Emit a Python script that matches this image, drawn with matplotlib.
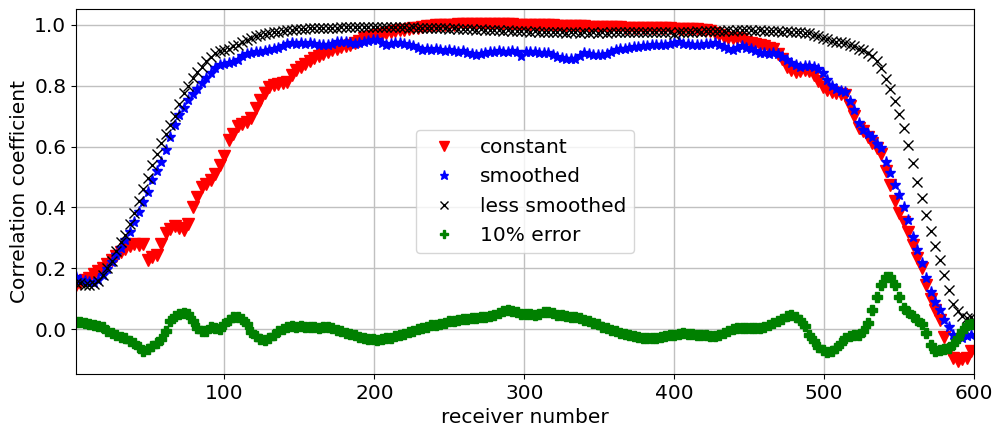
import numpy as np
import matplotlib
matplotlib.use("Agg")
import matplotlib.pyplot as plt

receivers = np.arange(1, 600, 3)

constant = [
    0.145, 0.150, 0.160, 0.168, 0.180, 0.192, 0.200, 0.215, 0.228, 0.240,
    0.252, 0.262, 0.272, 0.280, 0.275, 0.280, 0.228, 0.236, 0.245, 0.280,
    0.315, 0.330, 0.338, 0.333, 0.326, 0.345, 0.400, 0.435, 0.468, 0.478,
    0.490, 0.510, 0.540, 0.570, 0.620, 0.640, 0.668, 0.675, 0.680, 0.693,
    0.728, 0.752, 0.775, 0.795, 0.802, 0.806, 0.808, 0.812, 0.836, 0.850,
    0.860, 0.870, 0.882, 0.891, 0.898, 0.905, 0.910, 0.916, 0.920, 0.926,
    0.930, 0.935, 0.940, 0.947, 0.955, 0.960, 0.963, 0.966, 0.970, 0.974,
    0.977, 0.979, 0.982, 0.984, 0.986, 0.989, 0.991, 0.993, 0.995, 0.996,
    0.998, 0.999, 1.000, 1.000, 1.001, 1.002, 1.002, 1.003, 1.003, 1.003,
    1.003, 1.003, 1.003, 1.002, 1.003, 1.002, 1.002, 1.002, 1.001, 1.001,
    1.001, 1.000, 1.000, 0.999, 0.999, 0.998, 0.998, 0.997, 0.997, 0.997,
    0.996, 0.996, 0.995, 0.995, 0.994, 0.994, 0.994, 0.993, 0.993, 0.992,
    0.992, 0.992, 0.991, 0.991, 0.990, 0.990, 0.990, 0.989, 0.989, 0.989,
    0.988, 0.988, 0.988, 0.987, 0.987, 0.987, 0.986, 0.986, 0.985, 0.984,
    0.984, 0.980, 0.972, 0.966, 0.960, 0.956, 0.955, 0.955, 0.954, 0.945,
    0.940, 0.936, 0.932, 0.929, 0.924, 0.919, 0.905, 0.886, 0.862, 0.850,
    0.846, 0.848, 0.852, 0.847, 0.835, 0.815, 0.795, 0.785, 0.778, 0.775,
    0.772, 0.768, 0.732, 0.700, 0.662, 0.650, 0.632, 0.612, 0.595, 0.575,
    0.518, 0.474, 0.420, 0.380, 0.352, 0.320, 0.276, 0.232, 0.200, 0.145,
    0.100, 0.062, 0.030, -0.025, -0.070, -0.095, -0.105, -0.100, -0.095, -0.072,
]

smoothed = [
    0.170, 0.162, 0.158, 0.155, 0.152, 0.160, 0.176, 0.198, 0.222, 0.243,
    0.268, 0.292, 0.318, 0.352, 0.385, 0.416, 0.452, 0.490, 0.518, 0.550,
    0.590, 0.632, 0.670, 0.705, 0.728, 0.752, 0.772, 0.790, 0.810, 0.825,
    0.842, 0.858, 0.868, 0.872, 0.876, 0.878, 0.885, 0.896, 0.905, 0.908,
    0.910, 0.912, 0.915, 0.918, 0.921, 0.925, 0.930, 0.936, 0.940, 0.938,
    0.941, 0.938, 0.940, 0.936, 0.933, 0.935, 0.932, 0.938, 0.942, 0.945,
    0.943, 0.940, 0.938, 0.941, 0.945, 0.948, 0.950, 0.951, 0.940, 0.934,
    0.936, 0.939, 0.941, 0.938, 0.935, 0.930, 0.925, 0.918, 0.920, 0.917,
    0.919, 0.918, 0.915, 0.917, 0.913, 0.912, 0.914, 0.908, 0.904, 0.900,
    0.903, 0.908, 0.912, 0.910, 0.913, 0.911, 0.912, 0.913, 0.910, 0.897,
    0.910, 0.912, 0.910, 0.908, 0.906, 0.907, 0.900, 0.893, 0.890, 0.888,
    0.887, 0.889, 0.896, 0.906, 0.904, 0.901, 0.900, 0.902, 0.905, 0.910,
    0.917, 0.919, 0.920, 0.923, 0.926, 0.928, 0.929, 0.931, 0.932, 0.934,
    0.935, 0.934, 0.937, 0.940, 0.942, 0.938, 0.936, 0.934, 0.935, 0.933,
    0.936, 0.938, 0.939, 0.935, 0.928, 0.922, 0.918, 0.924, 0.929, 0.925,
    0.922, 0.915, 0.908, 0.906, 0.905, 0.907, 0.903, 0.895, 0.885, 0.876,
    0.868, 0.862, 0.864, 0.865, 0.862, 0.855, 0.840, 0.818, 0.800, 0.790,
    0.782, 0.778, 0.750, 0.720, 0.678, 0.655, 0.642, 0.630, 0.608, 0.594,
    0.550, 0.512, 0.474, 0.440, 0.402, 0.359, 0.304, 0.260, 0.216, 0.167,
    0.123, 0.090, 0.062, 0.030, 0.008, -0.018, -0.024, -0.028, -0.024, -0.018,
]

less_smoothed = [
    0.152, 0.150, 0.146, 0.144, 0.147, 0.158, 0.178, 0.200, 0.225, 0.255,
    0.285, 0.310, 0.345, 0.380, 0.420, 0.460, 0.495, 0.540, 0.575, 0.610,
    0.640, 0.670, 0.700, 0.740, 0.775, 0.800, 0.825, 0.845, 0.862, 0.880,
    0.895, 0.908, 0.915, 0.918, 0.922, 0.930, 0.935, 0.942, 0.950, 0.958,
    0.962, 0.967, 0.970, 0.974, 0.976, 0.978, 0.980, 0.982, 0.984, 0.985,
    0.986, 0.987, 0.988, 0.988, 0.989, 0.990, 0.990, 0.991, 0.991, 0.992,
    0.992, 0.993, 0.992, 0.993, 0.994, 0.993, 0.994, 0.993, 0.994, 0.993,
    0.993, 0.992, 0.993, 0.992, 0.991, 0.992, 0.990, 0.991, 0.990, 0.989,
    0.989, 0.988, 0.989, 0.987, 0.988, 0.986, 0.987, 0.985, 0.986, 0.984,
    0.985, 0.983, 0.984, 0.982, 0.983, 0.981, 0.982, 0.980, 0.981, 0.979,
    0.980, 0.978, 0.979, 0.977, 0.978, 0.976, 0.977, 0.975, 0.976, 0.974,
    0.975, 0.976, 0.974, 0.975, 0.973, 0.975, 0.974, 0.976, 0.974, 0.975,
    0.976, 0.975, 0.977, 0.976, 0.978, 0.976, 0.977, 0.975, 0.977, 0.976,
    0.977, 0.975, 0.976, 0.970, 0.976, 0.977, 0.978, 0.977, 0.979, 0.978,
    0.979, 0.980, 0.979, 0.981, 0.980, 0.982, 0.981, 0.982, 0.983, 0.982,
    0.982, 0.981, 0.982, 0.980, 0.981, 0.979, 0.980, 0.978, 0.979, 0.978,
    0.978, 0.976, 0.974, 0.972, 0.968, 0.963, 0.958, 0.952, 0.948, 0.945,
    0.942, 0.939, 0.935, 0.930, 0.922, 0.916, 0.908, 0.898, 0.882, 0.857,
    0.822, 0.788, 0.750, 0.706, 0.662, 0.605, 0.545, 0.483, 0.432, 0.374,
    0.322, 0.272, 0.228, 0.176, 0.127, 0.083, 0.058, 0.042, 0.036, 0.040,
]

error_10 = [
    0.024, 0.022, 0.019, 0.016, 0.013, 0.010, 0.006, -0.005, -0.012, -0.018,
    -0.025, -0.030, -0.038, -0.046, -0.058, -0.072, -0.066, -0.056, -0.045, -0.032,
    -0.005, 0.028, 0.042, 0.050, 0.053, 0.048, 0.025, 0.002, -0.006, -0.008,
    0.006, 0.003, 0.000, 0.018, 0.030, 0.038, 0.040, 0.034, 0.016, -0.010,
    -0.024, -0.034, -0.035, -0.028, -0.018, -0.008, 0.000, 0.006, 0.009, 0.008,
    0.009, 0.008, 0.007, 0.006, 0.005, 0.007, 0.006, 0.002, -0.004, -0.008,
    -0.013, -0.017, -0.021, -0.026, -0.029, -0.032, -0.034, -0.035, -0.034, -0.031,
    -0.028, -0.024, -0.020, -0.015, -0.010, -0.005, -0.001, 0.004, 0.008, 0.012,
    0.014, 0.017, 0.021, 0.025, 0.027, 0.030, 0.032, 0.034, 0.035, 0.037,
    0.038, 0.040, 0.042, 0.047, 0.053, 0.058, 0.062, 0.060, 0.055, 0.051,
    0.050, 0.049, 0.046, 0.050, 0.055, 0.057, 0.052, 0.047, 0.045, 0.043,
    0.041, 0.039, 0.036, 0.031, 0.026, 0.021, 0.015, 0.008, 0.002, -0.003,
    -0.008, -0.012, -0.016, -0.020, -0.024, -0.027, -0.029, -0.030, -0.030, -0.029,
    -0.027, -0.024, -0.021, -0.018, -0.016, -0.014, -0.015, -0.017, -0.019, -0.020,
    -0.021, -0.022, -0.023, -0.020, -0.012, -0.005, -0.001, 0.002, 0.002, 0.002,
    0.002, 0.003, 0.004, 0.008, 0.014, 0.020, 0.026, 0.034, 0.042, 0.046,
    0.040, 0.030, 0.010, -0.018, -0.040, -0.058, -0.070, -0.075, -0.072, -0.062,
    -0.045, -0.030, -0.022, -0.020, -0.018, -0.008, 0.020, 0.062, 0.105, 0.145,
    0.172, 0.170, 0.145, 0.106, 0.070, 0.055, 0.042, 0.030, 0.015, -0.012,
    -0.052, -0.072, -0.070, -0.066, -0.062, -0.050, -0.030, -0.005, 0.012, 0.018,
]

labels = ["constant", "smoothed", "less smoothed", "10% error"]

plt.rcParams["font.family"] = ["DejaVu Sans"]
fs = 14.5

fig = plt.figure(figsize=(9.96, 4.28), dpi=100)
ax = fig.add_axes([0.0763, 0.126, 0.9017, 0.853])

ax.plot(receivers, constant, "v", color="red", markersize=8, linestyle="none", label=labels[0])
ax.plot(receivers, smoothed, "*", color="blue", markersize=8, linestyle="none", label=labels[1])
ax.plot(receivers, less_smoothed, "x", color="black", markersize=7.5, linestyle="none", label=labels[2])
ax.plot(receivers, error_10, "P", color="green", markersize=7, linestyle="none", label=labels[3])

ax.set_xlim(1, 600)
ax.set_ylim(-0.148, 1.052)
ax.set_xticks([100, 200, 300, 400, 500, 600])
ax.set_yticks([0.0, 0.2, 0.4, 0.6, 0.8, 1.0])
ax.grid(True, color="#c0c0c0", linewidth=1.0)
ax.tick_params(labelsize=fs)
ax.set_xlabel("receiver number", fontsize=fs)
ax.set_ylabel("Correlation coefficient", fontsize=fs)
ax.legend(loc="center", fontsize=fs, markerscale=0.85)

fig.savefig("out.png", dpi=100)
